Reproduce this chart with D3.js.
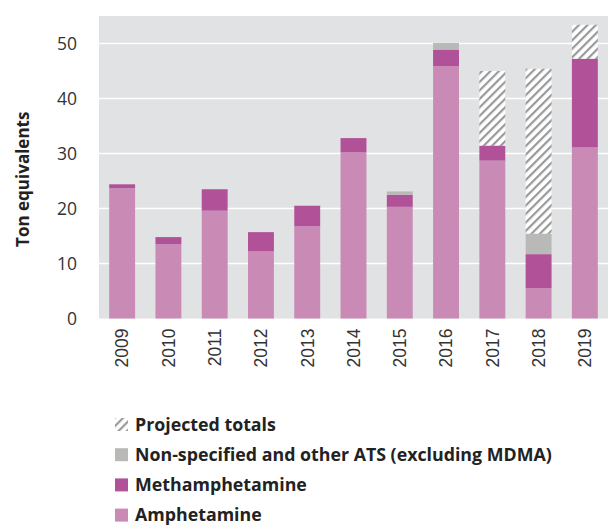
<!DOCTYPE html>
<html>
<head>
<meta charset="utf-8">
<script src="https://cdn.jsdelivr.net/npm/d3@7"></script>
<style>
  html, body { margin: 0; padding: 0; background: #fff; }
  svg { display: block; }
</style>
</head>
<body>
<svg id="chart" width="608" height="526"></svg>
<script>
// Seizures of amphetamine-type stimulants, in ton equivalents
const years = ["2009","2010","2011","2012","2013","2014","2015","2016","2017","2018","2019"];
const amphetamine    = [23.7, 13.5, 19.6, 12.2, 16.8, 30.2, 20.3, 45.9, 28.7, 5.5, 31.1];
const methamphetamine= [0.7, 1.3, 3.9, 3.5, 3.7, 2.6, 2.2, 3.0, 2.7, 6.2, 16.1];
const otherATS       = [0, 0, 0, 0, 0, 0, 0.6, 1.2, 0, 3.7, 0];
const projectedTotal = [null, null, null, null, null, null, null, null, 45.0, 45.4, 53.4];
const yTicks = [0, 10, 20, 30, 40, 50];

const colors = {
  amphetamine: "#c98ab6",
  methamphetamine: "#b15198",
  other: "#b9b9b8",
  plotBg: "#e1e2e4",
  hatch: "#9a9a9a"
};

const svg = d3.select("#chart");
const margin = { left: 99, right: 0, top: 16, bottom: 207.5 };
const W = 608, H = 526;
const plotW = W - margin.left - margin.right;
const plotH = H - margin.top - margin.bottom;

const x = d3.scaleBand().domain(years).range([margin.left, W - margin.right])
  .paddingInner(0.44).paddingOuter(0.22);
const y = d3.scaleLinear().domain([0, 55]).range([margin.top + plotH, margin.top]);

// hatch pattern for projected totals
const defs = svg.append("defs");
const pat = defs.append("pattern")
  .attr("id", "hatch").attr("patternUnits", "userSpaceOnUse")
  .attr("width", 6).attr("height", 6)
  .attr("patternTransform", "rotate(45)");
pat.append("rect").attr("width", 6).attr("height", 6).attr("fill", "#fff");
pat.append("rect").attr("x", 0).attr("y", 0).attr("width", 2.2).attr("height", 6).attr("fill", colors.hatch);

// plot background
svg.append("rect")
  .attr("x", margin.left).attr("y", margin.top)
  .attr("width", plotW).attr("height", plotH)
  .attr("fill", colors.plotBg);

// gridlines
svg.append("g").selectAll("line")
  .data(yTicks.filter(d => d > 0))
  .join("line")
  .attr("x1", margin.left).attr("x2", W - margin.right)
  .attr("y1", d => y(d)).attr("y2", d => y(d))
  .attr("stroke", "#fff").attr("stroke-width", 1.3);

// stacked series
const rows = years.map((yr, i) => ({
  year: yr,
  amphetamine: amphetamine[i],
  methamphetamine: methamphetamine[i],
  other: otherATS[i]
}));
const keys = ["amphetamine", "methamphetamine", "other"];
const stacked = d3.stack().keys(keys)(rows);
const stackTop = stacked[stacked.length - 1].map(d => d[1]);

// projected totals: hatched part above the reported seizures
svg.append("g").selectAll("rect")
  .data(years.map((yr, i) => ({ year: yr, base: stackTop[i], v: projectedTotal[i] }))
    .filter(d => d.v != null))
  .join("rect")
  .attr("x", d => x(d.year)).attr("width", x.bandwidth())
  .attr("y", d => y(d.v)).attr("height", d => y(d.base) - y(d.v))
  .attr("fill", "url(#hatch)");

svg.append("g").selectAll("g")
  .data(stacked)
  .join("g")
  .attr("fill", s => colors[s.key])
  .selectAll("rect")
  .data(s => s.filter(d => d[1] - d[0] > 0))
  .join("rect")
  .attr("x", d => x(d.data.year)).attr("width", x.bandwidth())
  .attr("y", d => y(d[1])).attr("height", d => y(d[0]) - y(d[1]));

// y axis labels
const yAxis = d3.axisLeft(y).tickValues(yTicks).tickSize(0).tickPadding(22);
const gy = svg.append("g").attr("transform", `translate(${margin.left},0)`).call(yAxis);
gy.select(".domain").remove();
gy.selectAll("text")
  .attr("font-family", "'Open Sans', sans-serif").attr("font-size", 17.5)
  .attr("fill", "#333").attr("dy", "0.34em");

// x axis labels, rotated
const xAxis = d3.axisBottom(x).tickSize(0).tickPadding(0);
const gx = svg.append("g").attr("transform", `translate(0,${y(0)})`).call(xAxis);
gx.select(".domain").remove();
gx.selectAll("text")
  .attr("font-family", "'Liberation Sans', Arial, sans-serif").attr("font-size", 17.5)
  .attr("fill", "#333")
  .attr("transform", "rotate(-90)")
  .attr("text-anchor", "end")
  .attr("x", -10).attr("y", 0).attr("dy", "0.36em").attr("dx", 0);

// y axis title
svg.append("text")
  .attr("transform", `translate(29,${(margin.top + y(0)) / 2 + 12}) rotate(-90)`)
  .attr("text-anchor", "middle")
  .attr("font-family", "'Open Sans', sans-serif").attr("font-weight", 700)
  .attr("font-size", 17).attr("fill", "#222")
  .text("Ton equivalents");

// legend
const legendItems = [
  { label: "Projected totals", fill: "url(#hatch)" },
  { label: "Non-specified and other ATS (excluding MDMA)", fill: colors.other },
  { label: "Methamphetamine", fill: colors.methamphetamine },
  { label: "Amphetamine", fill: colors.amphetamine }
];
const legend = svg.append("g").attr("transform", "translate(115,424.5)");
const li = legend.selectAll("g").data(legendItems).join("g")
  .attr("transform", (d, i) => `translate(0,${i * 30.2})`);
li.append("rect").attr("x", 0).attr("y", -6.5).attr("width", 13).attr("height", 13)
  .attr("fill", d => d.fill);
li.append("text").attr("x", 20).attr("y", 0).attr("dy", "0.35em")
  .attr("font-family", "'Open Sans', sans-serif").attr("font-weight", 700)
  .attr("font-size", 17.8).attr("fill", "#222")
  .text(d => d.label);
</script>
</body>
</html>
